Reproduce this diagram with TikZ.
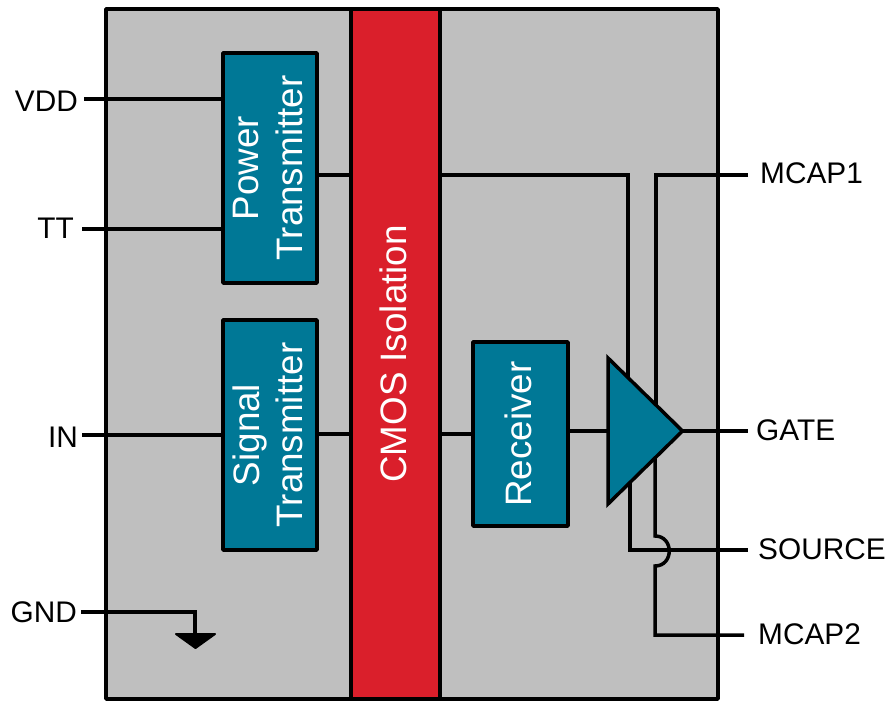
\documentclass[tikz,border=0pt]{standalone}
\usepackage{fontspec}
\setmainfont{Liberation Sans}
\usepackage{tikz}
\definecolor{casegray}{HTML}{BFBFBF}
\definecolor{isored}{HTML}{DA1F2B}
\definecolor{blockteal}{HTML}{007896}
\tikzset{
    wire/.style={line width=3.5pt, line join=miter},
    block/.style={rectangle, draw, line width=3.5pt, line join=round, fill=blockteal,
    	inner sep=0pt},
    blocktext/.style={text=white, inner sep=0pt, rotate=90, align=center,
    	font=\fontsize{36.8}{43.5}\selectfont},
    pin/.style={inner sep=0pt, text height=21pt, text depth=0pt,
    	font=\fontsize{29.8}{33}\selectfont}
}
\pgfdeclarelayer{background}
\pgfsetlayers{background,main}

\begin{document}
\begin{tikzpicture}[x=1pt,y=-1pt]
	\useasboundingbox (0,0) rectangle (891,701);
	\begin{pgfonlayer}{background}
		\node (case) [rectangle, draw, line width=3.5pt, line join=round, fill=casegray, inner sep=0pt,
			minimum width=612pt, minimum height=690pt] at (412,354) {};
	\end{pgfonlayer}
	\node (iso) [block, fill=isored, minimum width=89pt, minimum height=690pt] at (395.5,354) {};
	\node (isotext) [blocktext] at (393.5,354) {CMOS Isolation};
	\node (pwr) [block, minimum width=94pt, minimum height=230pt] at (270,168) {};
	\node (pwrtext) [blocktext] at (268,168) {Power\\Transmitter};
	\node (sig) [block, minimum width=94pt, minimum height=230pt] at (270,435) {};
	\node (sigtext) [blocktext] at (268,435) {Signal\\Transmitter};
	\node (rcv) [block, minimum width=95pt, minimum height=184pt] at (520.5,434) {};
	\node (rcvtext) [blocktext] at (518.5,434) {Receiver};

	% pins on the left
	\node (vdd) [pin, anchor=east] at (78,101) {VDD};
	\node (tt) [pin, anchor=east] at (74,228) {TT};
	\node (in) [pin, anchor=east] at (78,437) {IN};
	\node (gnd) [pin, anchor=east] at (77,612) {GND};
	% pins on the right
	\node (mcap1) [pin, anchor=west] at (760,173) {MCAP1};
	\node (gate) [pin, anchor=west] at (756,430) {GATE};
	\node (source) [pin, anchor=west] at (758,549) {SOURCE};
	\node (mcap2) [pin, anchor=west] at (758,634) {MCAP2};

	\coordinate (ampl) at (608,431);
	\coordinate (ampr) at (682.5,431);
	\coordinate (amptop) at (608,358);
	\coordinate (ampbot) at (608,504);
	\coordinate (gndtop) at (195,634);

	\begin{pgfonlayer}{background}
		\draw[wire] (84,99) -- (pwr.west |- 0,99);
		\draw[wire] (82,229) -- (pwr.west |- 0,229);
		\draw[wire] (82,435) -- (sig.west |- 0,435);
		\draw[wire] (81,612) -| (gndtop);
		\draw[wire] (pwr.east |- 0,175) -- (iso.west |- 0,175);
		\draw[wire] (sig.east |- 0,434) -- (iso.west |- 0,434);
		\draw[wire] (iso.east |- 0,434) -- (rcv.west |- 0,434);
		\draw[wire] (rcv.east |- ampl) -- (ampl);
		\draw[wire] (ampr) -- (748,431);
		\draw[wire] (iso.east |- 0,175) -- (628,175) -- (628,420);
		\draw[wire] (748,175) -- (656,175) -- (656,420);
		\draw[wire] (630,440) -- (630,550) -- (748,550);
		\draw[wire] (655,440) -- (655,536) .. controls (674,536) and (674,566) .. (655,566)
			-- (655,635) -- (744,635);
	\end{pgfonlayer}

	\draw[wire, fill=blockteal] (amptop) -- (ampr) -- (ampbot) -- cycle;
	\fill[line width=2pt, draw, line join=round] (176,634) -- (215,634) -- (195.5,648) -- cycle;
\end{tikzpicture}
\end{document}
